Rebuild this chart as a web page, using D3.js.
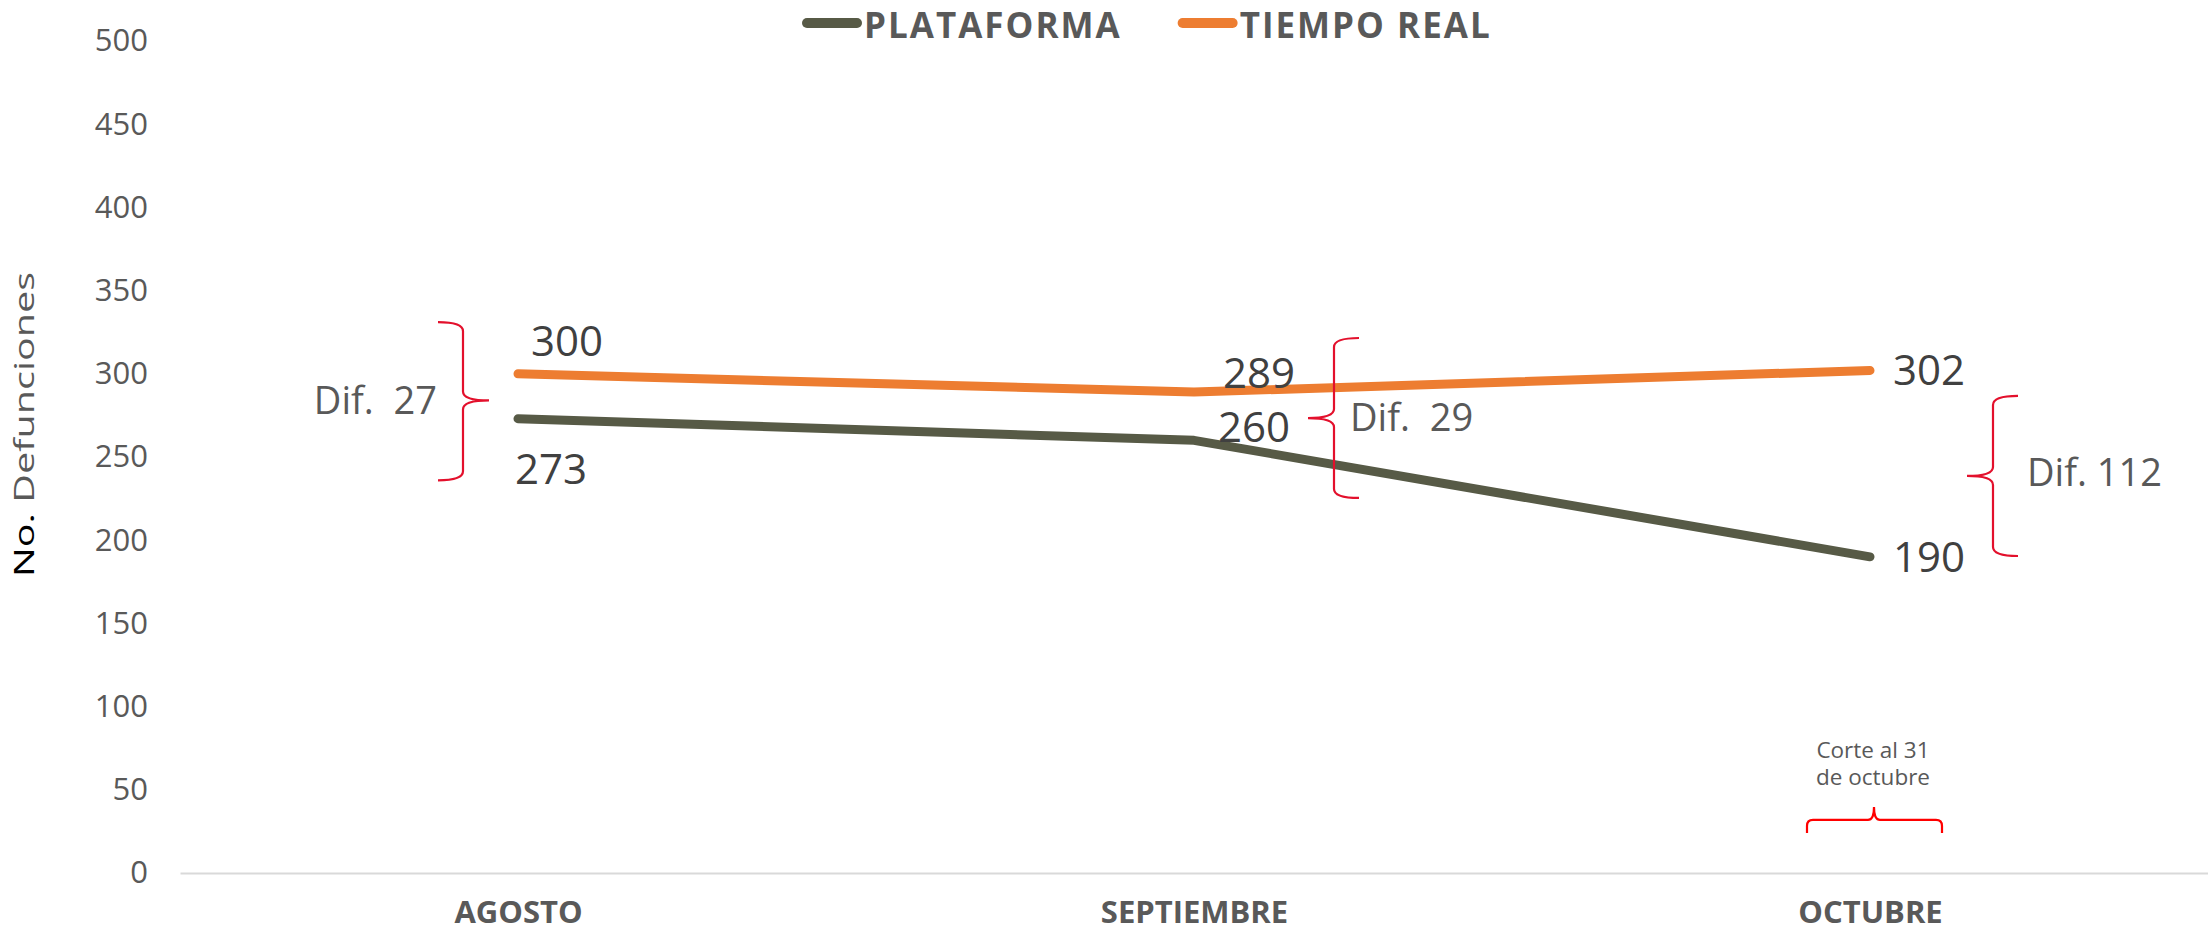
<!DOCTYPE html>
<html>
<head>
<meta charset="utf-8">
<script src="https://cdn.jsdelivr.net/npm/d3@7"></script>
<style>
  html, body { margin: 0; padding: 0; background: #fff; }
  svg { display: block; font-family: "Open Sans", "Noto Sans", sans-serif; }
  .tick-y text { fill: #595959; font-size: 31px; }
  .tick-x text { fill: #595959; font-size: 31px; font-weight: 700; }
  .value-label { fill: #404040; font-size: 42px; }
  .dif-label { fill: #595959; font-size: 38px; }
  .note-label { fill: #595959; font-size: 22.5px; }
  .legend-label { fill: #595959; font-size: 35px; font-weight: 700; letter-spacing: 2px; }
  .brace { fill: none; stroke: #e3102c; stroke-width: 2.2; }
</style>
</head>
<body>
<svg id="chart" width="2208" height="933"></svg>
<script>
  const months = ["AGOSTO", "SEPTIEMBRE", "OCTUBRE"];
  const plataforma = [273, 260, 190];
  const tiempoReal = [300, 289, 302];
  const yTicks = [0, 50, 100, 150, 200, 250, 300, 350, 400, 450, 500];
  const seriesNames = ["PLATAFORMA", "TIEMPO REAL"];
  const difLabels = ["Dif.  27", "Dif.  29", "Dif. 112"];
  const noteLines = ["Corte al 31", "de octubre"];

  const colors = { PLATAFORMA: "#575a46", "TIEMPO REAL": "#ed7d31" };

  const plot = { left: 180, right: 2208, top: 41, bottom: 873 };

  const svg = d3.select("#chart");

  const x = d3
    .scalePoint()
    .domain(months)
    .range([plot.left, plot.right])
    .padding(0.5);

  const y = d3.scaleLinear().domain([0, 500]).range([plot.bottom, plot.top]);

  // y axis (labels only)
  const yAxisG = svg
    .append("g")
    .attr("class", "tick-y")
    .attr("transform", `translate(${plot.left},0)`)
    .call(d3.axisLeft(y).tickValues(yTicks).tickSize(0).tickPadding(32))
    .attr("font-family", null)
    .attr("font-size", null);
  yAxisG.select(".domain").remove();

  // x axis with light baseline
  const xAxisG = svg
    .append("g")
    .attr("class", "tick-x")
    .attr("transform", `translate(0,${plot.bottom})`)
    .call(d3.axisBottom(x).tickSize(0).tickPadding(28))
    .attr("font-family", null)
    .attr("font-size", null);
  xAxisG.select(".domain").attr("stroke", "#d9d9d9").attr("stroke-width", 2);

  // y axis title, stretched along its length like the original
  const yTitle = svg.append("text").attr("text-anchor", "middle").attr("font-size", 34);
  yTitle.append("tspan").attr("fill", "#000").text("No. ");
  yTitle.append("tspan").attr("fill", "#595959").text("Defunciones");
  const titleLen = yTitle.node().getComputedTextLength();
  yTitle.attr(
    "transform",
    `translate(34,${(272 + 577) / 2}) rotate(-90) scale(${305 / titleLen},0.8)`
  );

  // lines
  const line = d3
    .line()
    .x((d) => x(d.month))
    .y((d) => y(d.value));

  const series = [
    { name: "PLATAFORMA", values: plataforma },
    { name: "TIEMPO REAL", values: tiempoReal },
  ];

  series.forEach((s) => {
    const pts = months.map((m, i) => ({ month: m, value: s.values[i] }));
    svg
      .append("path")
      .datum(pts)
      .attr("d", line)
      .attr("fill", "none")
      .attr("stroke", colors[s.name])
      .attr("stroke-width", 9)
      .attr("stroke-linecap", "round")
      .attr("stroke-linejoin", "round");
  });

  // value labels: offsets from each point (start anchor)
  const platOffsets = [[-3, 65], [24, 2], [23, 15]];
  const realOffsets = [[13, -18], [29, -4], [23, 15]];

  function addValueLabels(values, offsets) {
    values.forEach((v, i) => {
      svg
        .append("text")
        .attr("class", "value-label")
        .attr("x", x(months[i]) + offsets[i][0])
        .attr("y", y(v) + offsets[i][1])
        .text(v);
    });
  }
  addValueLabels(plataforma, platOffsets);
  addValueLabels(tiempoReal, realOffsets);

  // vertical curly braces; dir = 1 tip to the right, -1 tip to the left
  function vBrace(xv, yTop, yBot, yTip, dir, arm, tip) {
    const r = 9;
    const xe = xv - dir * arm;
    const xt = xv + dir * tip;
    return [
      `M${xe},${yTop}`,
      `Q${xv},${yTop} ${xv},${yTop + r}`,
      `L${xv},${yTip - r}`,
      `Q${xv},${yTip} ${xt},${yTip}`,
      `Q${xv},${yTip} ${xv},${yTip + r}`,
      `L${xv},${yBot - r}`,
      `Q${xv},${yBot} ${xe},${yBot}`,
    ].join(" ");
  }

  const braces = [
    { month: "AGOSTO", dx: -55, top: 331, bot: 236, tip: 284, dir: 1 },
    { month: "SEPTIEMBRE", dx: 140, top: 321.5, bot: 225.4, tip: 273.4, dir: -1 },
    { month: "OCTUBRE", dx: 123, top: 286.7, bot: 190.5, tip: 238.6, dir: -1 },
  ];

  braces.forEach((b) => {
    svg
      .append("path")
      .attr("class", "brace")
      .attr("d", vBrace(x(b.month) + b.dx, y(b.top), y(b.bot), y(b.tip), b.dir, 25, 26));
  });

  // dif labels
  const difPos = [
    { month: "AGOSTO", dx: -81, dy: 14, anchor: "end" },
    { month: "SEPTIEMBRE", dx: 156, dy: 13, anchor: "start" },
    { month: "OCTUBRE", dx: 157, dy: 10, anchor: "start" },
  ];
  difLabels.forEach((t, i) => {
    const p = difPos[i];
    svg
      .append("text")
      .attr("class", "dif-label")
      .attr("x", x(p.month) + p.dx)
      .attr("y", y(braces[i].tip) + p.dy)
      .attr("text-anchor", p.anchor)
      .style("white-space", "pre")
      .text(t);
  });

  // horizontal brace + note under OCTUBRE
  const cx = x("OCTUBRE") + 4;
  const hy = y(31.9);
  const hEnd = y(24);
  const hTip = y(39.7);
  const r = 6;
  svg
    .append("path")
    .attr("class", "brace")
    .attr(
      "d",
      [
        `M${cx - 67},${hEnd}`,
        `L${cx - 67},${hy + r}`,
        `Q${cx - 67},${hy} ${cx - 67 + r},${hy}`,
        `L${cx - r},${hy}`,
        `Q${cx},${hy} ${cx},${hTip}`,
        `Q${cx},${hy} ${cx + r},${hy}`,
        `L${cx + 68 - r},${hy}`,
        `Q${cx + 68},${hy} ${cx + 68},${hy + r}`,
        `L${cx + 68},${hEnd}`,
      ].join(" ")
    )
    .style("stroke", "#ff0000");

  noteLines.forEach((t, i) => {
    svg
      .append("text")
      .attr("class", "note-label")
      .attr("x", x("OCTUBRE") + 3)
      .attr("y", 758 + i * 27)
      .attr("text-anchor", "middle")
      .text(t);
  });

  // legend
  const legend = svg.append("g").attr("transform", "translate(802,0)");
  let lx = 0;
  seriesNames.forEach((name) => {
    legend
      .append("line")
      .attr("x1", lx + 5)
      .attr("x2", lx + 55)
      .attr("y1", 23)
      .attr("y2", 23)
      .attr("stroke", colors[name])
      .attr("stroke-width", 10)
      .attr("stroke-linecap", "round");
    const t = legend
      .append("text")
      .attr("class", "legend-label")
      .attr("x", lx + 62)
      .attr("y", 38)
      .text(name);
    lx += 62 + t.node().getComputedTextLength() + 56;
  });
</script>
</body>
</html>
